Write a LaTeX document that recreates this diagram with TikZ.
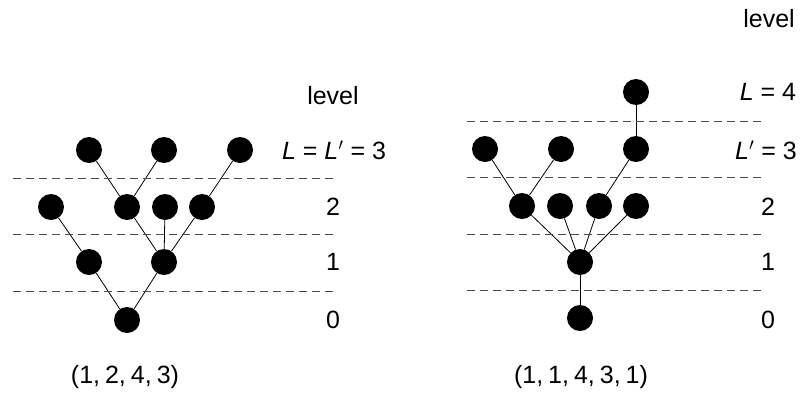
\documentclass[tikz,border=0pt]{standalone}
\usepackage{fontspec}
\setmainfont{Liberation Sans}
\begin{document}
\begin{tikzpicture}[x=1pt,y=-1pt,
  dot/.style={circle,fill=black,inner sep=0pt,minimum size=26pt},
  edge/.style={line width=0.8pt,black},
  lvl/.style={dash pattern=on 8pt off 5pt,line width=0.8pt,black!70},
  lab/.style={font=\fontsize{25}{30}\selectfont,inner sep=0pt,anchor=center}]
\useasboundingbox (0,0) rectangle (803,394);
% left tree
\node[dot] (a0) at (127,320) {};
\node[dot] (a1) at (89,262) {};
\node[dot] (a2) at (164,262) {};
\node[dot] (b1) at (51,207) {};
\node[dot] (b2) at (127,207) {};
\node[dot] (b3) at (165,207) {};
\node[dot] (b4) at (202,207) {};
\node[dot] (c1) at (89,150) {};
\node[dot] (c2) at (164,150) {};
\node[dot] (c3) at (240,150) {};
\draw[edge] (a0) -- (a1);
\draw[edge] (a0) -- (a2);
\draw[edge] (a1) -- (b1);
\draw[edge] (a2) -- (b2);
\draw[edge] (a2) -- (b3);
\draw[edge] (a2) -- (b4);
\draw[edge] (b2) -- (c1);
\draw[edge] (b2) -- (c2);
\draw[edge] (b4) -- (c3);
\coordinate (l1s) at (13,178); \coordinate (l1e) at (334,178);
\coordinate (l2s) at (13,234); \coordinate (l2e) at (334,234);
\coordinate (l3s) at (13,291); \coordinate (l3e) at (334,291);
\draw[lvl] (l1s) -- (l1e);
\draw[lvl] (l2s) -- (l2e);
\draw[lvl] (l3s) -- (l3e);
\node[lab] (tl) at (333,96) {level};
\node[lab] (t3) at (334,150) {\textit{L} = \textit{L}$^{\prime}$ = 3};
\node[lab] (t2) at (333,207) {2};
\node[lab] (t1) at (333,262) {1};
\node[lab] (t0) at (333,320) {0};
\node[lab] (ta) at (125,377) {(1,\hspace{0.2em}2,\hspace{0.2em}4,\hspace{0.2em}3)};
% right tree
\node[dot] (r0) at (580,318) {};
\node[dot] (r1) at (580,262) {};
\node[dot] (s1) at (522,206) {};
\node[dot] (s2) at (560,206) {};
\node[dot] (s3) at (599,206) {};
\node[dot] (s4) at (636,206) {};
\node[dot] (u1) at (485,149) {};
\node[dot] (u2) at (561,149) {};
\node[dot] (u3) at (636,149) {};
\node[dot] (v1) at (636,92) {};
\draw[edge] (r0) -- (r1);
\draw[edge] (r1) -- (s1);
\draw[edge] (r1) -- (s2);
\draw[edge] (r1) -- (s3);
\draw[edge] (r1) -- (s4);
\draw[edge] (s1) -- (u1);
\draw[edge] (s1) -- (u2);
\draw[edge] (s3) -- (u3);
\draw[edge] (u3) -- (v1);
\coordinate (m0s) at (467,121); \coordinate (m0e) at (762,121);
\coordinate (m1s) at (467,177); \coordinate (m1e) at (762,177);
\coordinate (m2s) at (467,234); \coordinate (m2e) at (762,234);
\coordinate (m3s) at (467,290); \coordinate (m3e) at (762,290);
\draw[lvl] (m0s) -- (m0e);
\draw[lvl] (m1s) -- (m1e);
\draw[lvl] (m2s) -- (m2e);
\draw[lvl] (m3s) -- (m3e);
\node[lab] (rl) at (769,19) {level};
\node[lab] (r4) at (768,92) {\textit{L} = 4};
\node[lab] (r3) at (766,150) {\textit{L}$^{\prime}$ = 3};
\node[lab] (r2) at (768,207) {2};
\node[lab] (rr1) at (768,262) {1};
\node[lab] (rr0) at (768,320) {0};
\node[lab] (rb) at (581,377) {(1,\hspace{0.2em}1,\hspace{0.2em}4,\hspace{0.2em}3,\hspace{0.2em}1)};
\end{tikzpicture}
\end{document}
